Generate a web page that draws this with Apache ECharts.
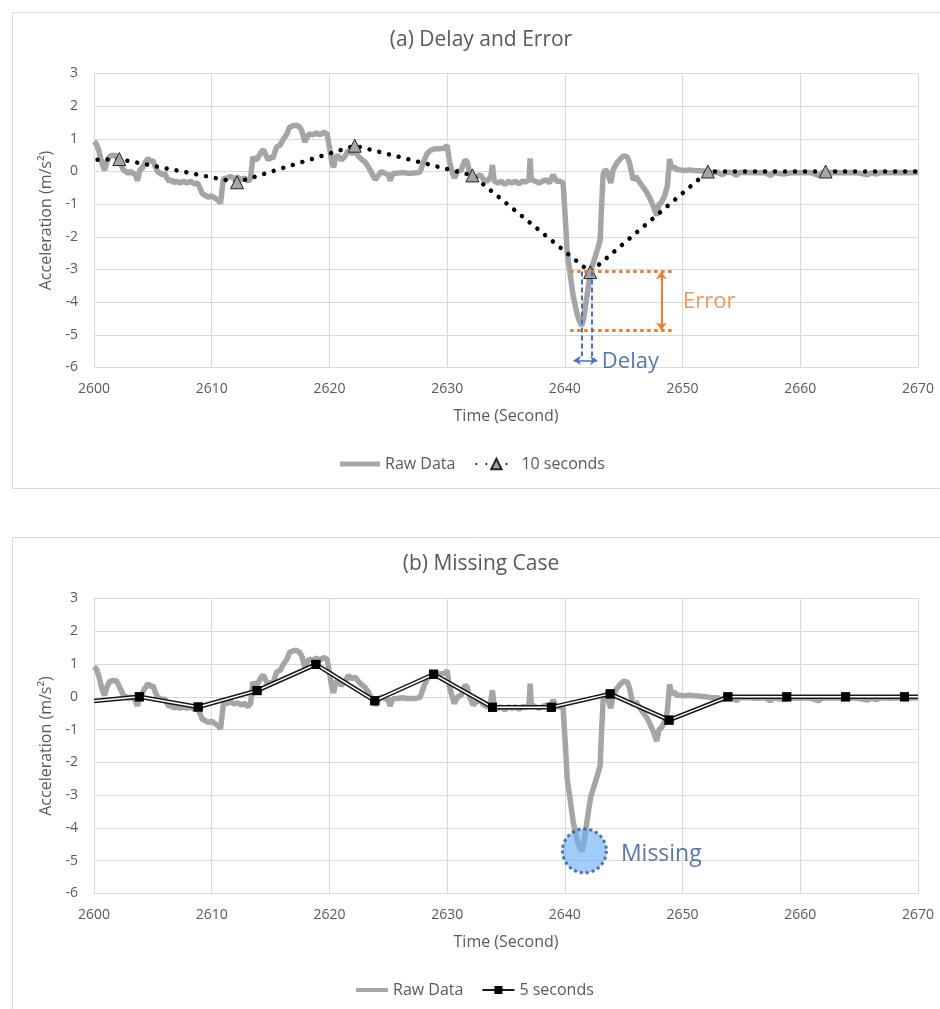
<!DOCTYPE html>
<html><head><meta charset="utf-8">
<script src="https://cdn.jsdelivr.net/npm/echarts@6/dist/echarts.min.js"></script>
<style>html,body{margin:0;padding:0;background:#fff}#c{width:940px;height:1009px}</style>
</head><body><div id="c"></div>
<script>
// ---------- data ----------
const rawTime = [2600.0,2600.2,2600.4,2600.6,2600.8,2600.9,2601.1,2601.3,2601.5,2601.7,2601.9,2602.1,2602.3,2602.5,2602.7,2602.9,2603.1,2603.3,2603.5,2603.7,2603.9,2604.1,2604.3,2604.6,2604.8,2605.0,2605.2,2605.4,2605.6,2605.8,2606.0,2606.2,2606.4,2606.6,2606.8,2607.0,2607.3,2607.6,2607.9,2608.2,2608.5,2608.8,2609.0,2609.2,2609.4,2609.7,2610.0,2610.3,2610.6,2610.75,2610.9,2611.0,2611.3,2611.6,2611.9,2612.2,2612.5,2612.8,2613.1,2613.3,2613.5,2613.7,2613.9,2614.2,2614.4,2614.6,2614.8,2615.0,2615.2,2615.5,2615.8,2616.1,2616.4,2616.6,2616.9,2617.2,2617.5,2617.7,2617.9,2618.1,2618.3,2618.6,2618.9,2619.2,2619.5,2619.8,2620.0,2620.2,2620.35,2620.5,2620.7,2621.0,2621.3,2621.6,2621.9,2622.2,2622.5,2622.8,2623.0,2623.3,2623.6,2623.9,2624.1,2624.4,2624.7,2625.0,2625.15,2625.4,2625.8,2626.2,2626.6,2627.0,2627.4,2627.7,2628.0,2628.3,2628.6,2629.0,2629.4,2629.8,2630.0,2630.2,2630.35,2630.6,2630.9,2631.2,2631.5,2631.7,2631.9,2632.2,2632.5,2632.8,2633.1,2633.4,2633.7,2633.85,2634.0,2634.3,2634.6,2634.9,2635.2,2635.5,2635.8,2636.1,2636.4,2636.7,2636.95,2637.05,2637.15,2637.5,2637.8,2638.1,2638.4,2638.7,2639.0,2639.3,2639.6,2639.85,2640.05,2640.2,2640.4,2640.7,2641.0,2641.2,2641.43,2641.6,2641.8,2642.0,2642.2,2642.5,2642.8,2643.0,2643.1,2643.25,2643.4,2643.6,2643.9,2644.1,2644.4,2644.7,2645.0,2645.3,2645.5,2645.8,2646.05,2646.3,2646.6,2646.9,2647.2,2647.5,2647.8,2648.0,2648.2,2648.45,2648.7,2648.9,2649.05,2649.3,2649.5,2649.8,2650.2,2650.6,2651.0,2651.5,2652.0,2652.5,2653.0,2653.4,2653.6,2654.2,2654.6,2654.8,2655.5,2656.3,2657.0,2657.5,2657.7,2658.6,2659.3,2660.0,2660.8,2661.6,2661.8,2662.7,2663.5,2664.3,2665.0,2665.7,2666.0,2666.5,2666.8,2667.6,2668.4,2669.2,2670.0];
const rawAccel = [0.92,0.85,0.65,0.35,0.12,0.05,0.30,0.45,0.50,0.48,0.50,0.35,0.20,0.05,0.00,-0.05,0.00,-0.05,-0.10,-0.28,0.05,0.10,0.25,0.40,0.30,0.35,0.15,0.00,-0.05,-0.10,-0.05,-0.20,-0.30,-0.25,-0.35,-0.30,-0.35,-0.30,-0.35,-0.30,-0.38,-0.35,-0.50,-0.68,-0.72,-0.78,-0.75,-0.82,-0.90,-0.98,-0.50,-0.22,-0.20,-0.15,-0.22,-0.18,-0.25,-0.20,-0.30,-0.20,0.45,0.35,0.40,0.60,0.66,0.50,0.35,0.45,0.40,0.75,0.80,1.00,1.15,1.35,1.40,1.42,1.35,1.20,0.90,1.05,1.15,1.12,1.18,1.12,1.20,1.15,0.75,0.30,0.12,0.40,0.50,0.35,0.45,0.65,0.55,0.60,0.45,0.35,0.30,0.15,-0.05,-0.25,-0.15,0.00,-0.05,-0.10,-0.28,-0.05,-0.05,-0.03,-0.05,-0.05,-0.04,-0.02,0.30,0.55,0.65,0.70,0.70,0.72,0.80,0.30,0.10,-0.20,0.00,0.05,0.35,0.30,0.00,-0.25,-0.15,-0.10,-0.25,-0.30,-0.15,0.20,-0.30,-0.35,-0.30,-0.40,-0.30,-0.35,-0.30,-0.38,-0.30,-0.32,-0.25,0.40,-0.25,-0.30,-0.35,-0.30,-0.25,-0.35,-0.10,-0.30,-0.30,-0.35,-1.50,-2.50,-3.00,-3.80,-4.30,-4.55,-4.72,-4.50,-4.00,-3.50,-3.05,-2.70,-2.35,-2.10,-1.20,-0.10,0.05,0.00,-0.35,0.05,0.25,0.38,0.48,0.45,0.26,-0.26,-0.15,-0.30,-0.46,-0.60,-0.80,-1.05,-1.35,-1.00,-0.95,-0.77,-0.46,0.38,0.10,0.15,0.05,0.05,0.03,0.05,0.03,0.02,0.00,-0.03,-0.03,-0.10,-0.03,-0.03,-0.12,-0.03,-0.03,-0.04,-0.03,-0.12,-0.03,-0.08,-0.03,-0.04,-0.03,-0.12,-0.04,-0.03,-0.04,-0.03,-0.05,-0.10,-0.04,-0.08,-0.03,-0.04,-0.03,-0.04,-0.03];

const tenSecTime  = [2602.15, 2612.15, 2622.15, 2632.15, 2642.15, 2652.15, 2662.15];
const tenSecAccel = [0.38, -0.33, 0.79, -0.12, -3.08, 0.0, 0.0];
const tenSecLineStart = [2600.3, 0.36];
const tenSecLineEnd   = [2670, 0.0];

const fiveSecTime  = [2603.85, 2608.85, 2613.85, 2618.85, 2623.85, 2628.85, 2633.85, 2638.85, 2643.85, 2648.85, 2653.85, 2658.85, 2663.85, 2668.85];
const fiveSecAccel = [0.0, -0.31, 0.19, 0.99, -0.12, 0.69, -0.32, -0.32, 0.09, -0.71, 0.0, 0.0, 0.0, 0.0];
const fiveSecLineStart = [2600, -0.13];
const fiveSecLineEnd   = [2670, 0.0];

const xMin = 2600, xMax = 2670, xStep = 10;
const yMin = -6, yMax = 3, yStep = 1;

// annotations
const errorLevels = [-3.05, -4.87];
const errorSpan = [2640.45, 2649.35];
const errorArrowTime = 2648.2;
const errorLabelPos = [2650.0, -3.98];
const delayTimes = [2641.4, 2642.3];
const delayLineRange = [-3.06, -5.65];
const delayArrowSpan = [2640.75, 2642.75];
const delayArrowLevel = -5.78;
const delayLabelPos = [2643.1, -5.81];
const missingPoint = [2641.66, -4.70];

// ---------- chart ----------
const FONT = "'Open Sans', sans-serif";
const TXT = '#595959';
const rawPairs = rawTime.map((t, i) => [t, rawAccel[i]]);
const tenPairs = tenSecTime.map((t, i) => [t, tenSecAccel[i]]);
const fivePairs = fiveSecTime.map((t, i) => [t, fiveSecAccel[i]]);
const tenLine = [{value: tenSecLineStart, symbol: 'none'}].concat(tenPairs.map(p => ({value: p}))).concat([{value: tenSecLineEnd, symbol: 'none'}]);
const fiveLine = [{value: fiveSecLineStart, symbol: 'none'}].concat(fivePairs.map(p => ({value: p}))).concat([{value: fiveSecLineEnd, symbol: 'none'}]);

function xAxis(i) {
  return {type: 'value', gridIndex: i, min: xMin, max: xMax, interval: xStep,
    axisLine: {show: false}, axisTick: {show: false},
    splitLine: {show: true, lineStyle: {color: '#D9D9D9', width: 1}},
    axisLabel: {color: TXT, fontSize: 14, margin: 15, fontFamily: FONT, formatter: v => String(v)},
    name: 'Time (Second)', nameLocation: 'middle', nameGap: 41,
    nameTextStyle: {color: TXT, fontSize: 16, fontFamily: FONT}};
}
function yAxis(i) {
  return {type: 'value', gridIndex: i, min: yMin, max: yMax, interval: yStep,
    axisLine: {show: false}, axisTick: {show: false},
    splitLine: {show: true, lineStyle: {color: '#D9D9D9', width: 1}},
    axisLabel: {color: TXT, fontSize: 14, margin: 16, fontFamily: FONT},
    name: 'Acceleration (m/s²)', nameLocation: 'middle', nameGap: 38,
    nameTextStyle: {color: TXT, fontSize: 16, fontFamily: FONT}};
}
const legendText = {color: TXT, fontSize: 16, fontFamily: FONT};
const rawIcon = 'path://M0 0H40V5H0Z';

const chart = echarts.init(document.getElementById('c'));
chart.setOption({
  animation: false,
  backgroundColor: '#fff',
  graphic: [
    {type: 'rect', silent: true, z: -10, shape: {x: 12.5, y: 12.5, width: 940, height: 476}, style: {fill: 'none', stroke: '#D9D9D9', lineWidth: 1}},
    {type: 'rect', silent: true, z: -10, shape: {x: 12.5, y: 537.5, width: 940, height: 480}, style: {fill: 'none', stroke: '#D9D9D9', lineWidth: 1}}
  ],
  title: [
    {text: '(a) Delay and Error', left: 481, top: 40, textAlign: 'center', textVerticalAlign: 'middle', padding: 0,
      textStyle: {color: TXT, fontSize: 21, fontWeight: 'normal', fontFamily: FONT}},
    {text: '(b) Missing Case', left: 481, top: 564, textAlign: 'center', textVerticalAlign: 'middle', padding: 0,
      textStyle: {color: TXT, fontSize: 21, fontWeight: 'normal', fontFamily: FONT}}
  ],
  legend: [
    {data: [{name: 'Raw Data', icon: rawIcon}, '10 seconds'], left: 340, top: 456, padding: 0, itemWidth: 40, itemHeight: 13, itemGap: 20, selectedMode: false, textStyle: legendText},
    {data: [{name: 'Raw Data', icon: rawIcon}, '5 seconds'], left: 356, top: 982, padding: 0, itemWidth: 32, itemHeight: 10, itemGap: 18, selectedMode: false, textStyle: legendText}
  ],
  grid: [
    {left: 94, top: 73.5, width: 824, height: 294},
    {left: 94, top: 598.5, width: 824, height: 295}
  ],
  xAxis: [xAxis(0), xAxis(1)],
  yAxis: [yAxis(0), yAxis(1)],
  series: [
    {type: 'line', name: 'Raw Data', xAxisIndex: 0, yAxisIndex: 0, data: rawPairs, symbol: 'none', z: 2,
      lineStyle: {color: '#A5A5A5', width: 5.5}, itemStyle: {color: '#A5A5A5'}},
    {type: 'line', name: '10 seconds', xAxisIndex: 0, yAxisIndex: 0, data: tenLine, z: 3,
      symbol: 'triangle', symbolSize: 13,
      lineStyle: {color: '#000', width: 4.5, type: [0.01, 10], cap: 'round'},
      itemStyle: {color: '#A5A5A5', borderColor: '#262626', borderWidth: 1}},
    {type: 'line', name: 'Raw Data', xAxisIndex: 1, yAxisIndex: 1, data: rawPairs, symbol: 'none', z: 2,
      lineStyle: {color: '#A5A5A5', width: 5.5}, itemStyle: {color: '#A5A5A5'}},
    {type: 'line', name: '5 seconds', xAxisIndex: 1, yAxisIndex: 1, data: fiveLine, z: 3,
      symbol: 'rect', symbolSize: 9, showAllSymbol: true,
      lineStyle: {color: '#1a1a1a', width: 4.5}, itemStyle: {color: '#000'}},
    {type: 'line', name: '5 seconds inner', xAxisIndex: 1, yAxisIndex: 1, data: fiveLine, z: 4,
      symbol: 'none', lineStyle: {color: '#fff', width: 1.5}},
    {type: 'scatter', name: '5 seconds markers', xAxisIndex: 1, yAxisIndex: 1, data: fivePairs, z: 5,
      symbol: 'rect', symbolSize: 9, itemStyle: {color: '#000', opacity: 1}},
    // error annotation
    {type: 'line', name: 'errorLines', xAxisIndex: 0, yAxisIndex: 0, data: [], z: 6,
      markLine: {silent: true, symbol: ['none', 'none'], label: {show: false}, animation: false,
        lineStyle: {color: '#ED7D31', width: 3, type: [3.5, 3.5]},
        data: errorLevels.map(v => [{coord: [errorSpan[0], v]}, {coord: [errorSpan[1], v]}])}},
    {type: 'line', name: 'errorArrow', xAxisIndex: 0, yAxisIndex: 0, data: [], z: 6,
      markLine: {silent: true, symbol: ['arrow', 'arrow'], symbolSize: 8, label: {show: false}, animation: false,
        lineStyle: {color: '#ED7D31', width: 2, type: 'solid'},
        data: [[{coord: [errorArrowTime, errorLevels[0]]}, {coord: [errorArrowTime, errorLevels[1]]}]]}},
    // delay annotation
    {type: 'line', name: 'delayLines', xAxisIndex: 0, yAxisIndex: 0, data: [], z: 6,
      markLine: {silent: true, symbol: ['none', 'none'], label: {show: false}, animation: false,
        lineStyle: {color: '#4472C4', width: 2, type: [5, 3]},
        data: delayTimes.map(t => [{coord: [t, delayLineRange[0]]}, {coord: [t, delayLineRange[1]]}])}},
    {type: 'line', name: 'delayArrow', xAxisIndex: 0, yAxisIndex: 0, data: [], z: 6,
      markLine: {silent: true, symbol: ['arrow', 'arrow'], symbolSize: 7, label: {show: false}, animation: false,
        lineStyle: {color: '#4472C4', width: 1.5, type: 'solid'},
        data: [[{coord: [delayArrowSpan[0], delayArrowLevel]}, {coord: [delayArrowSpan[1], delayArrowLevel]}]]}},
    {type: 'scatter', name: 'annotLabels', xAxisIndex: 0, yAxisIndex: 0, z: 7, silent: true,
      symbolSize: 1, itemStyle: {color: 'rgba(0,0,0,0)'},
      label: {show: true, position: 'right', distance: 0, fontSize: 22, fontFamily: FONT, formatter: p => p.data.text},
      data: [
        {value: errorLabelPos, text: 'Error', label: {color: '#ED7D31'}},
        {value: delayLabelPos, text: 'Delay', label: {color: '#2F5597'}}
      ]},
    // missing annotation
    {type: 'scatter', name: 'missing', xAxisIndex: 1, yAxisIndex: 1, z: 6, silent: true,
      data: [missingPoint], symbol: 'circle', symbolSize: 44,
      itemStyle: {color: 'rgba(110,175,245,0.8)', borderColor: '#2F5597', borderWidth: 3, borderType: [3, 3]},
      label: {show: true, position: 'right', distance: 13, offset: [0, 4], formatter: 'Missing',
        color: '#2F5597', fontSize: 23, fontFamily: FONT}}
  ]
});
</script>
</body></html>
